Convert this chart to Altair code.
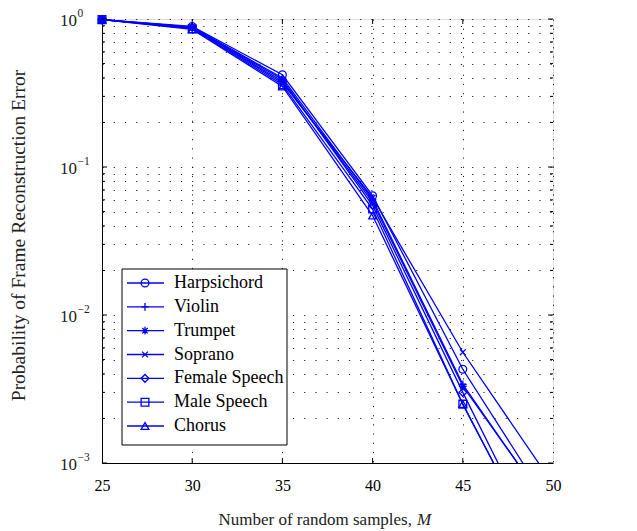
import altair as alt
import pandas as pd

BLUE = "#0000ff"
SERIF = "Liberation Serif"

M = [25, 30, 35, 40, 45, 50]
names = ["Harpsichord", "Violin", "Trumpet", "Soprano", "Female Speech", "Male Speech", "Chorus"]
harpsichord = [0.99, 0.89, 0.42, 0.064, 0.0043, 0.00048]
violin = [0.99, 0.88, 0.40, 0.060, 0.0034, 0.00045]
trumpet = [0.99, 0.87, 0.38, 0.058, 0.0033, 0.00046]
soprano = [0.99, 0.87, 0.37, 0.062, 0.0056, 0.00072]
female = [0.99, 0.88, 0.39, 0.055, 0.0030, 0.00018]
male = [0.99, 0.86, 0.36, 0.052, 0.0025, 0.00017]
chorus = [0.99, 0.85, 0.35, 0.047, 0.0025, 0.00017]
series_vals = [harpsichord, violin, trumpet, soprano, female, male, chorus]

shapes = [
    "circle",
    "M-1,0H1M0,-1V1",
    "M-1,0H1M0,-1V1M-0.7,-0.7L0.7,0.7M-0.7,0.7L0.7,-0.7",
    "M-0.75,-0.75L0.75,0.75M-0.75,0.75L0.75,-0.75",
    "diamond",
    "square",
    "triangle-up",
]

x_ticks = [25, 30, 35, 40, 45, 50]
y_major = [1, 0.1, 0.01, 0.001]
y_exp = ["0", "\u22121", "\u22122", "\u22123"]
y_minor = [k * 10.0 ** e for e in (-3, -2, -1) for k in range(2, 10)]
y_grid = sorted(y_major + y_minor)
x_title = "Number of random samples,"
x_title_var = "M"
y_title = "Probability of Frame Reconstruction Error"

rows = []
for n, vals in zip(names, series_vals):
    for m, p in zip(M, vals):
        rows.append({"series": n, "M": m, "P": p})
df = pd.DataFrame(rows)

W, H = 451, 444

xs = alt.Scale(domain=[25, 50], nice=False, zero=False)
ys = alt.Scale(type="log", domain=[0.001, 1], nice=False)
shp = alt.Scale(domain=names, range=shapes)

xaxis = alt.Axis(values=x_ticks, grid=True, gridColor="black", gridDash=[1.2, 8], gridOpacity=0.85,
                 ticks=False, labelFont=SERIF, labelFontSize=16, labelColor="black", labelPadding=14,
                 title="", domainColor="black", labelFlush=False)
yaxis = alt.Axis(values=y_grid, grid=True, gridColor="black", gridDash=[1.2, 10], gridOpacity=0.85,
                 ticks=False, labels=False,
                 title=y_title, titleFont=SERIF, titleFontSize=19.5,
                 titleFontWeight="normal", titleColor="#222222", titleX=-84, titleY=H / 2 - 6,
                 titleBaseline="middle", domainColor="black")

base = alt.Chart(df)
lines = base.mark_line(clip=True, color=BLUE, strokeWidth=1.3).encode(
    x=alt.X("M:Q", scale=xs, axis=xaxis),
    y=alt.Y("P:Q", scale=ys, axis=yaxis),
    detail="series:N",
)
points = base.transform_filter("datum.P >= 0.001").mark_point(
    filled=False, size=60, strokeWidth=1.3, color=BLUE, opacity=1
).encode(
    x=alt.X("M:Q", scale=xs),
    y=alt.Y("P:Q", scale=ys),
    shape=alt.Shape("series:N", scale=shp, legend=None),
)

ymaj = pd.DataFrame({"v": y_major, "e": y_exp})
ymin = pd.DataFrame({"v": y_minor})
xt = pd.DataFrame({"v": x_ticks[1:-1]})

def yticks(d, length):
    left = alt.Chart(d).mark_rule(color="black", strokeWidth=1).encode(
        y=alt.Y("v:Q", scale=ys), x=alt.value(0), x2=alt.value(length))
    right = alt.Chart(d).mark_rule(color="black", strokeWidth=1).encode(
        y=alt.Y("v:Q", scale=ys), x=alt.value(W - length), x2=alt.value(W))
    return [left, right]

xtb = alt.Chart(xt).mark_rule(color="black").encode(
    x=alt.X("v:Q", scale=xs), y=alt.value(H - 5), y2=alt.value(H))
xtt = alt.Chart(xt).mark_rule(color="black").encode(
    x=alt.X("v:Q", scale=xs), y=alt.value(0), y2=alt.value(5))

ylab_base = alt.Chart(ymaj).mark_text(align="left", baseline="middle", font=SERIF, fontSize=17,
                                      color="#222222", dy=2).encode(
    y=alt.Y("v:Q", scale=ys), x=alt.value(-42), text=alt.value("10"))
ylab_exp = alt.Chart(ymaj).mark_text(align="left", baseline="middle", font=SERIF, fontSize=11.5,
                                     color="#222222", dy=-5).encode(
    y=alt.Y("v:Q", scale=ys), x=alt.value(-24.5), text="e:N")

tdf = pd.DataFrame({"a": [0]})
xt1 = alt.Chart(tdf).mark_text(align="right", baseline="middle", font=SERIF, fontSize=17,
                               color="#222222").encode(
    x=alt.value(310), y=alt.value(H + 57), text=alt.value(x_title))
xt2 = alt.Chart(tdf).mark_text(align="left", baseline="middle", font=SERIF, fontSize=17,
                               fontStyle="italic", color="#222222").encode(
    x=alt.value(315), y=alt.value(H + 57), text=alt.value(x_title_var))

main = alt.layer(lines, points, *yticks(ymaj, 5), *yticks(ymin, 3), xtb, xtt,
                 ylab_base, ylab_exp, xt1, xt2)

legdf = pd.DataFrame({"series": names})
ly = alt.Y("series:N", scale=alt.Scale(type="point", domain=names, range=[264, 407], padding=0), axis=None)
box = alt.Chart(tdf).mark_rect(fill="white", stroke="black", strokeWidth=1).encode(
    x=alt.value(20), x2=alt.value(185), y=alt.value(250), y2=alt.value(426))
leg_line = alt.Chart(legdf).mark_rule(color=BLUE, strokeWidth=1.3).encode(
    y=ly, x=alt.value(25), x2=alt.value(62))
leg_pt = alt.Chart(legdf).mark_point(filled=False, size=60, strokeWidth=1.3, color=BLUE, opacity=1).encode(
    y=ly, x=alt.value(43), shape=alt.Shape("series:N", scale=shp, legend=None))
leg_txt = alt.Chart(legdf).mark_text(align="left", baseline="middle", font=SERIF, fontSize=18, color="black").encode(
    y=ly, x=alt.value(72), text="series:N")
legend = alt.layer(box, leg_line, leg_pt, leg_txt)

chart = alt.layer(main, legend).resolve_scale(y="independent").properties(
    width=W, height=H,
    padding={"left": 94, "top": 11, "right": 20, "bottom": 66},
    autosize="none",
).configure_view(stroke="black", strokeWidth=1).configure(background="white")

chart.save("out.html", embed_options={"renderer": "svg", "actions": False})
